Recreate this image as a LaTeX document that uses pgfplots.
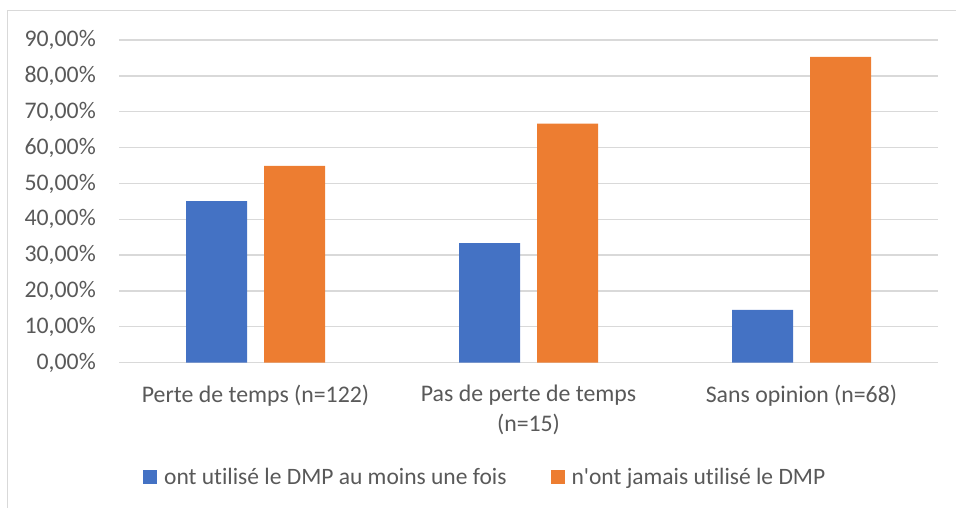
\documentclass[border=0pt]{standalone}
\usepackage{fontspec}
\setmainfont{Carlito}[Ligatures={CommonOff,TeXOff}]
\usepackage{pgfplots}
\pgfplotsset{compat=1.18}
\definecolor{txt}{HTML}{595959}
\definecolor{grd}{HTML}{D9D9D9}
\definecolor{cblue}{HTML}{4472C4}
\definecolor{corange}{HTML}{ED7D31}
\begin{document}
\begin{tikzpicture}[x=1pt,y=1pt]
\draw[grd, line width=1.3pt] (7.3,-20) -- (7.3,497.3) -- (990,497.3);
\begin{axis}[
  at={(119pt,145.3pt)}, anchor=south west,
  scale only axis, width=819pt, height=322.7pt,
  ybar=17pt, bar width=61pt,
  xmin=-0.5, xmax=2.5, ymin=0, ymax=90,
  xtick=data,
  xticklabels={{Perte de temps (n=122)},{Pas de perte de temps\\(n=15)},{Sans opinion (n=68)}},
  ytick={0,10,20,30,40,50,60,70,80,90},
  yticklabels={{0,00\%},{10,00\%},{20,00\%},{30,00\%},{40,00\%},{50,00\%},{60,00\%},{70,00\%},{80,00\%},{90,00\%}},
  axis line style={draw=none},
  major tick length=0pt,
  ymajorgrids, major grid style={grd, line width=1.3pt},
  tick label style={font=\fontsize{23.8}{30}\selectfont, text=txt},
  yticklabel style={inner sep=0pt, anchor=east, xshift=-23pt},
  xticklabel style={align=center, anchor=north, inner sep=0pt, yshift=-22pt},
  legend style={at={(0.0293,-0.354)}, anchor=west, draw=none, fill=none,
    font=\fontsize{23.5}{28}\selectfont, text=txt, inner sep=0pt,
    legend columns=2,
    /tikz/every odd column/.append style={column sep=5pt},
    /tikz/every even column/.append style={column sep=42pt}},
  legend image code/.code={\fill[#1] (0pt,-7pt) rectangle (14pt,7pt);},
]
\addplot[fill=cblue, draw=none] coordinates {(0,45.08) (1,33.33) (2,14.71)};
\addplot[fill=corange, draw=none] coordinates {(0,54.92) (1,66.67) (2,85.29)};
\legend{ont utilisé le DMP au moins une fois, n'ont jamais utilisé le DMP}
\end{axis}
\pgfresetboundingbox
\useasboundingbox (0,0) rectangle (956,508);
\end{tikzpicture}
\end{document}
